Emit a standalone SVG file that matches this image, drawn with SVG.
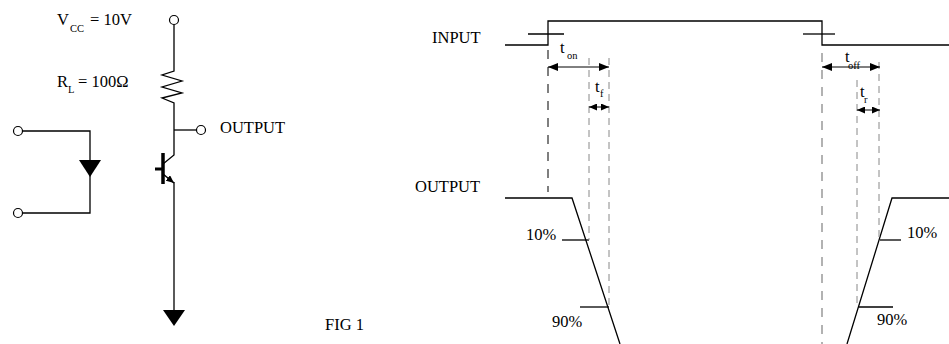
<svg xmlns="http://www.w3.org/2000/svg" width="949" height="344" viewBox="0 0 949 344">
<style>
text{font-family:"Liberation Serif","Times New Roman",serif;font-size:16.5px;fill:#000}
.sub{font-size:10.5px}
.w{fill:none;stroke:#000;stroke-width:1.3}
.term{fill:#fff;stroke:#000;stroke-width:1.2}
.dk{fill:none;stroke:#555;stroke-width:1.5;stroke-dasharray:9 8}
.lt{fill:none;stroke:#999;stroke-width:1.5;stroke-dasharray:9 8}
.th{fill:none;stroke:#888;stroke-width:1;stroke-dasharray:7 5}
.dim{fill:none;stroke:#000;stroke-width:1;marker-start:url(#ah);marker-end:url(#ah)}
.dims{fill:none;stroke:#000;stroke-width:1;marker-start:url(#ahs);marker-end:url(#ahs)}
</style>
<defs>
<marker id="ah" viewBox="0 0 10 8" refX="10" refY="4" markerWidth="10" markerHeight="8" markerUnits="userSpaceOnUse" orient="auto-start-reverse">
<path d="M0,0 L10,4 L0,8 Z" fill="#000"/>
</marker>
<marker id="ahs" viewBox="0 0 8 7" refX="8" refY="3.5" markerWidth="8" markerHeight="7" markerUnits="userSpaceOnUse" orient="auto-start-reverse">
<path d="M0,0 L8,3.5 L0,7 Z" fill="#000"/>
</marker>
<marker id="em" viewBox="0 0 8 7" refX="8" refY="3.5" markerWidth="8" markerHeight="7" markerUnits="userSpaceOnUse" orient="auto">
<path d="M0,0 L8,3.5 L0,7 Z" fill="#000"/>
</marker>
</defs>
<g id="labels">
<text x="57" y="25">V</text><text class="sub" x="70" y="32">CC</text><text x="90" y="25">= 10V</text>
<text x="57" y="87">R</text><text class="sub" x="68" y="93">L</text><text x="78" y="87">= 100Ω</text>
<text x="220" y="133">OUTPUT</text>
<text x="432" y="43">INPUT</text>
<text x="415" y="192">OUTPUT</text>
<text x="325" y="330">FIG 1</text>
</g>
<g id="connectors">
<polyline class="w" points="174,24.5 174,71 162,75 182,81 162,87 182,93 162,98 174,103 174,155 163,164"/>
<line class="w" x1="174" y1="130" x2="196.5" y2="130"/>
<line stroke="#000" stroke-width="1.5" x1="163" y1="174" x2="174" y2="183" marker-end="url(#em)"/>
<line class="w" x1="174" y1="182" x2="174" y2="311"/>
<polyline class="w" points="22.5,131 90,131 90,213 22.5,213"/>
</g>
<g id="vcc-terminal"><circle class="term" cx="174" cy="20" r="4.5"/></g>
<g id="output-terminal"><circle class="term" cx="201" cy="130" r="4.5"/></g>
<g id="input-terminal-top"><circle class="term" cx="18" cy="131" r="4.5"/></g>
<g id="input-terminal-bottom"><circle class="term" cx="18" cy="213" r="4.5"/></g>
<g id="diode"><polygon points="79,160 101,160 90,177" fill="#000"/></g>
<g id="transistor">
<line stroke="#000" stroke-width="3.5" x1="163" y1="153" x2="163" y2="184"/>
<line stroke="#000" stroke-width="3" x1="155" y1="169" x2="163" y2="169"/>
</g>
<g id="ground"><polygon points="163,310 185,310 174,326" fill="#000"/></g>
<g id="input-wave">
<polyline class="w" stroke-width="1.5" points="505,45 548,45 548,21 822,21 822,45 949,45"/>
<line class="w" x1="528" y1="34" x2="564" y2="34"/>
<line class="w" x1="803" y1="34" x2="835" y2="34"/>
</g>
<g id="output-wave">
<polyline class="w" stroke-width="1.5" points="505,198 572,198 620,344"/>
<polyline class="w" stroke-width="1.5" points="949,198 892,198 847,344"/>
<line class="w" x1="562" y1="240" x2="589" y2="240"/>
<line class="w" x1="580" y1="307" x2="609" y2="307"/>
<line class="w" x1="880" y1="240" x2="901" y2="240"/>
<line class="w" x1="859" y1="307" x2="893" y2="307"/>
<text x="526" y="240">10%</text>
<text x="552" y="327">90%</text>
<text x="907" y="238">10%</text>
<text x="877" y="325">90%</text>
</g>
<g id="guides">
<line class="dk" x1="548" y1="50" x2="548" y2="192"/>
<line class="lt" x1="822" y1="53" x2="822" y2="344"/>
<line class="th" x1="589" y1="58" x2="589" y2="240"/>
<line class="th" x1="609" y1="58" x2="609" y2="307"/>
<line class="th" x1="857" y1="80" x2="857" y2="307"/>
<line class="th" x1="879" y1="62" x2="879" y2="240"/>
</g>
<g id="timing">
<line class="dim" x1="548" y1="67" x2="609" y2="67"/>
<line class="dims" x1="589" y1="107" x2="609" y2="107"/>
<line class="dim" x1="822" y1="67" x2="880" y2="67"/>
<line class="dims" x1="857" y1="110" x2="880" y2="110"/>
<text x="560" y="53">t</text><text class="sub" x="567" y="59">on</text>
<text x="595" y="92">t</text><text class="sub" x="600" y="97">f</text>
<text x="845" y="62">t</text><text class="sub" x="848" y="69">off</text>
<text x="860" y="97">t</text><text class="sub" x="864" y="103">r</text>
</g>
</svg>
